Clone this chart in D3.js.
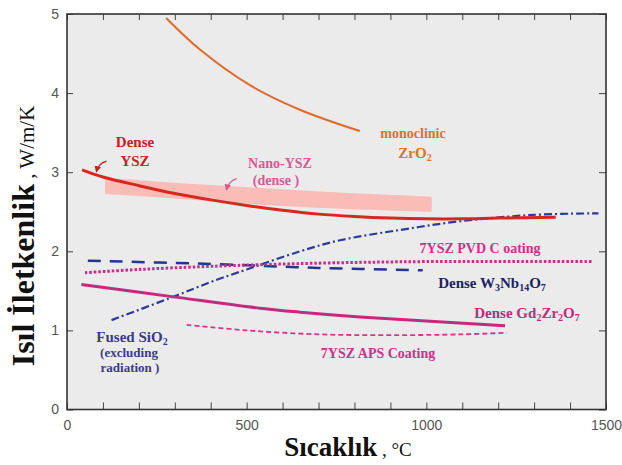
<!DOCTYPE html>
<html lang="tr">
<head>
<meta charset="UTF-8">
<title>Isıl iletkenlik</title>
<style type="text/css">
	body { margin: 0; background: #fff; }
	.tick text { font-family: "Liberation Sans", Arial, sans-serif; font-size: 14px; fill: #555; }
	.tick line { stroke: #444; stroke-width: 1px; }
	.lbl { font-family: "Liberation Serif", "Times New Roman", serif; font-weight: bold; font-size: 14px; }
</style>
</head>
<body>
<svg id="graph" width="622" height="465"></svg>

<script src="https://cdn.jsdelivr.net/npm/d3@7"></script>
<script>
	"use strict";

	// x: sicaklik (C), y: W/m/K
	var xTicks = [0, 500, 1000, 1500];
	var yTicks = [0, 1, 2, 3, 4, 5];

	var denseYSZ = [[42,3.03],[100,2.94],[200,2.83],[300,2.73],[400,2.65],[500,2.58],[600,2.52],[700,2.47],[800,2.44],[900,2.42],[1000,2.41],[1100,2.41],[1200,2.42],[1360,2.43]];
	var nanoTop = [[106,2.93],[259,2.88],[537,2.80],[815,2.73],[1015,2.69]];
	var nanoBottom = [[106,2.72],[259,2.68],[537,2.59],[815,2.53],[1015,2.50]];
	var monoZrO2 = [[276,4.95],[370,4.55],[509,4.10],[648,3.79],[815,3.52]];
	var fusedSiO2 = [[124,1.13],[287,1.41],[417,1.64],[500,1.77],[649,2.0],[760,2.14],[927,2.27],[1094,2.38],[1297,2.46],[1479,2.48]];
	var pvd7YSZ = [[50,1.73],[200,1.77],[400,1.81],[700,1.85],[1000,1.87],[1460,1.87]];
	var w3nb14o7 = [[58,1.88],[400,1.84],[700,1.79],[990,1.76]];
	var gd2zr2o7 = [[40,1.58],[287,1.43],[537,1.28],[649,1.23],[815,1.17],[1219,1.06]];
	var aps7YSZ = [[333,1.07],[500,1.0],[700,0.95],[900,0.94],[1100,0.95],[1224,0.97]];

	var svg = d3.select("#graph");
	var x = d3.scaleLinear().domain([0,1500]).range([67,606]);
	var y = d3.scaleLinear().domain([0,5]).range([409.5,14]);

	svg.append("rect")
	  .attr("x",x(0)).attr("y",y(5))
	  .attr("width",x(1500)-x(0)).attr("height",y(0)-y(5))
	  .attr("fill","#ebebeb");

	var line = d3.line()
	  .x(function(d){return x(d[0]);})
	  .y(function(d){return y(d[1]);})
	  .curve(d3.curveCatmullRom.alpha(0.5));

	// Nano-YSZ band
	svg.append("path")
	  .attr("d",d3.area()
	    .x(function(d,i){return x(d[0]);})
	    .y0(function(d,i){return y(nanoBottom[i][1]);})
	    .y1(function(d){return y(d[1]);})
	    .curve(d3.curveCatmullRom.alpha(0.5))(nanoTop))
	  .attr("fill","#f9bcb6");

	var series = [
		{d: monoZrO2, c: "#e06a2c", w: 2, dash: null},
		{d: fusedSiO2, c: "#2a3c98", w: 2.2, dash: "8,3,2,3"},
		{d: w3nb14o7, c: "#24358a", w: 2.5, dash: "13,9"},
		{d: pvd7YSZ, c: "#d0288c", w: 3, dash: "2.5,2"},
		{d: gd2zr2o7, c: "#c42a80", w: 3, dash: null},
		{d: aps7YSZ, c: "#d8348c", w: 1.8, dash: "5,3"},
		{d: denseYSZ, c: "#d8281e", w: 3, dash: null}
	];

	svg.selectAll("path.curve")
	  .data(series)
	  .enter()
	  .append("path")
	  .attr("class","curve")
	  .attr("d",function(d){return line(d.d);})
	  .attr("fill","none")
	  .attr("stroke",function(d){return d.c;})
	  .attr("stroke-width",function(d){return d.w;})
	  .attr("stroke-dasharray",function(d){return d.dash;});

	// axes
	var minor = d3.range(0,1501,100);
	svg.append("g")
	  .attr("transform","translate(0,"+y(0)+")")
	  .call(d3.axisBottom(x).tickValues(minor).tickSize(-7).tickPadding(11)
	    .tickFormat(function(d){return xTicks.indexOf(d) >= 0 ? d : "";}))
	  .call(function(g){g.select(".domain").remove();});
	svg.append("g")
	  .attr("transform","translate(0,"+y(5)+")")
	  .call(d3.axisTop(x).tickValues(minor).tickSize(-6).tickFormat(""))
	  .call(function(g){g.select(".domain").remove();});
	svg.append("g")
	  .attr("transform","translate("+x(0)+",0)")
	  .call(d3.axisLeft(y).tickValues(yTicks).tickSize(-6).tickPadding(8).tickFormat(d3.format("d")))
	  .call(function(g){g.select(".domain").remove();});
	svg.append("g")
	  .attr("transform","translate("+x(1500)+",0)")
	  .call(d3.axisRight(y).tickValues(yTicks).tickSize(-7).tickFormat(""))
	  .call(function(g){g.select(".domain").remove();});

	svg.append("rect")
	  .attr("x",x(0)).attr("y",y(5))
	  .attr("width",x(1500)-x(0)).attr("height",y(0)-y(5))
	  .attr("fill","none").attr("stroke","#333").attr("stroke-width",1.6);

	// axis titles
	var xt = svg.append("text")
	  .attr("x",348).attr("y",456)
	  .attr("text-anchor","middle")
	  .attr("font-family","'Liberation Serif', 'Times New Roman', serif")
	  .attr("fill","#111");
	xt.append("tspan").attr("font-weight","bold").attr("font-size",27).text("Sıcaklık");
	xt.append("tspan").attr("font-size",19).text(" , °C");

	var yt = svg.append("text")
	  .attr("transform","translate(34,236) rotate(-90)")
	  .attr("text-anchor","middle")
	  .attr("font-family","'Liberation Serif', 'Times New Roman', serif")
	  .attr("fill","#111");
	yt.append("tspan").attr("font-weight","bold").attr("font-size",32).text("Isıl İletkenlik");
	yt.append("tspan").attr("font-size",21).text(" , W/m/K");

	// labels
	function label(px, py, color, parts, size) {
		var t = svg.append("text")
		  .attr("class","lbl")
		  .attr("x",px).attr("y",py)
		  .attr("text-anchor","middle")
		  .attr("fill",color)
		  .style("font-size",(size || 14)+"px");
		parts.forEach(function(p){
			var s = t.append("tspan").text(p[0]);
			if (p[1] === "sub") s.attr("baseline-shift","-25%").style("font-size","10px");
		});
	}
	label(135,147,"#c8201e",[["Dense"]],15);
	label(135,166,"#c8201e",[["YSZ"]],15);
	label(280,168,"#d65a92",[["Nano-YSZ"]]);
	label(276,185,"#d65a92",[["(dense )"]]);
	label(413,138,"#e07030",[["monoclinic"]]);
	label(415,158,"#e07030",[["ZrO"],["2","sub"]],15);
	label(480,253,"#d0308a",[["7YSZ PVD C oating"]]);
	label(492,288,"#1c2262",[["Dense W"],["3","sub"],["Nb"],["14","sub"],["O"],["7","sub"]],15);
	label(527,318,"#c02a7a",[["Dense  Gd"],["2","sub"],["Zr"],["2","sub"],["O"],["7","sub"]],15);
	label(378,358,"#d0308a",[["7YSZ APS Coating"]]);
	label(132,342,"#3a3a8a",[["Fused  SiO"],["2","sub"]],15);
	label(129,357,"#3a3a8a",[["(excluding"]],13);
	label(130,372,"#3a3a8a",[["radiation )"]],13);

	// small arrows
	svg.append("defs").append("marker")
	  .attr("id","ah").attr("viewBox","0 0 10 10").attr("refX",8).attr("refY",5)
	  .attr("markerWidth",5).attr("markerHeight",5).attr("orient","auto")
	  .append("path").attr("d","M0,0L10,5L0,10z").attr("fill","context-stroke");
	function arrow(x0,y0,x1,y1,color) {
		var mx = (x(x0)+x(x1))/2 - 3, my = (y(y0)+y(y1))/2 - 3;
		svg.append("path")
		  .attr("d","M"+x(x0)+","+y(y0)+"Q"+mx+","+my+" "+x(x1)+","+y(y1))
		  .attr("fill","none").attr("stroke",color).attr("stroke-width",1.3)
		  .attr("marker-end","url(#ah)");
	}
	arrow(110,3.14,82,3.01,"#c8201e");
	arrow(472,2.92,444,2.78,"#d65a92");
</script>
</body>
</html>
